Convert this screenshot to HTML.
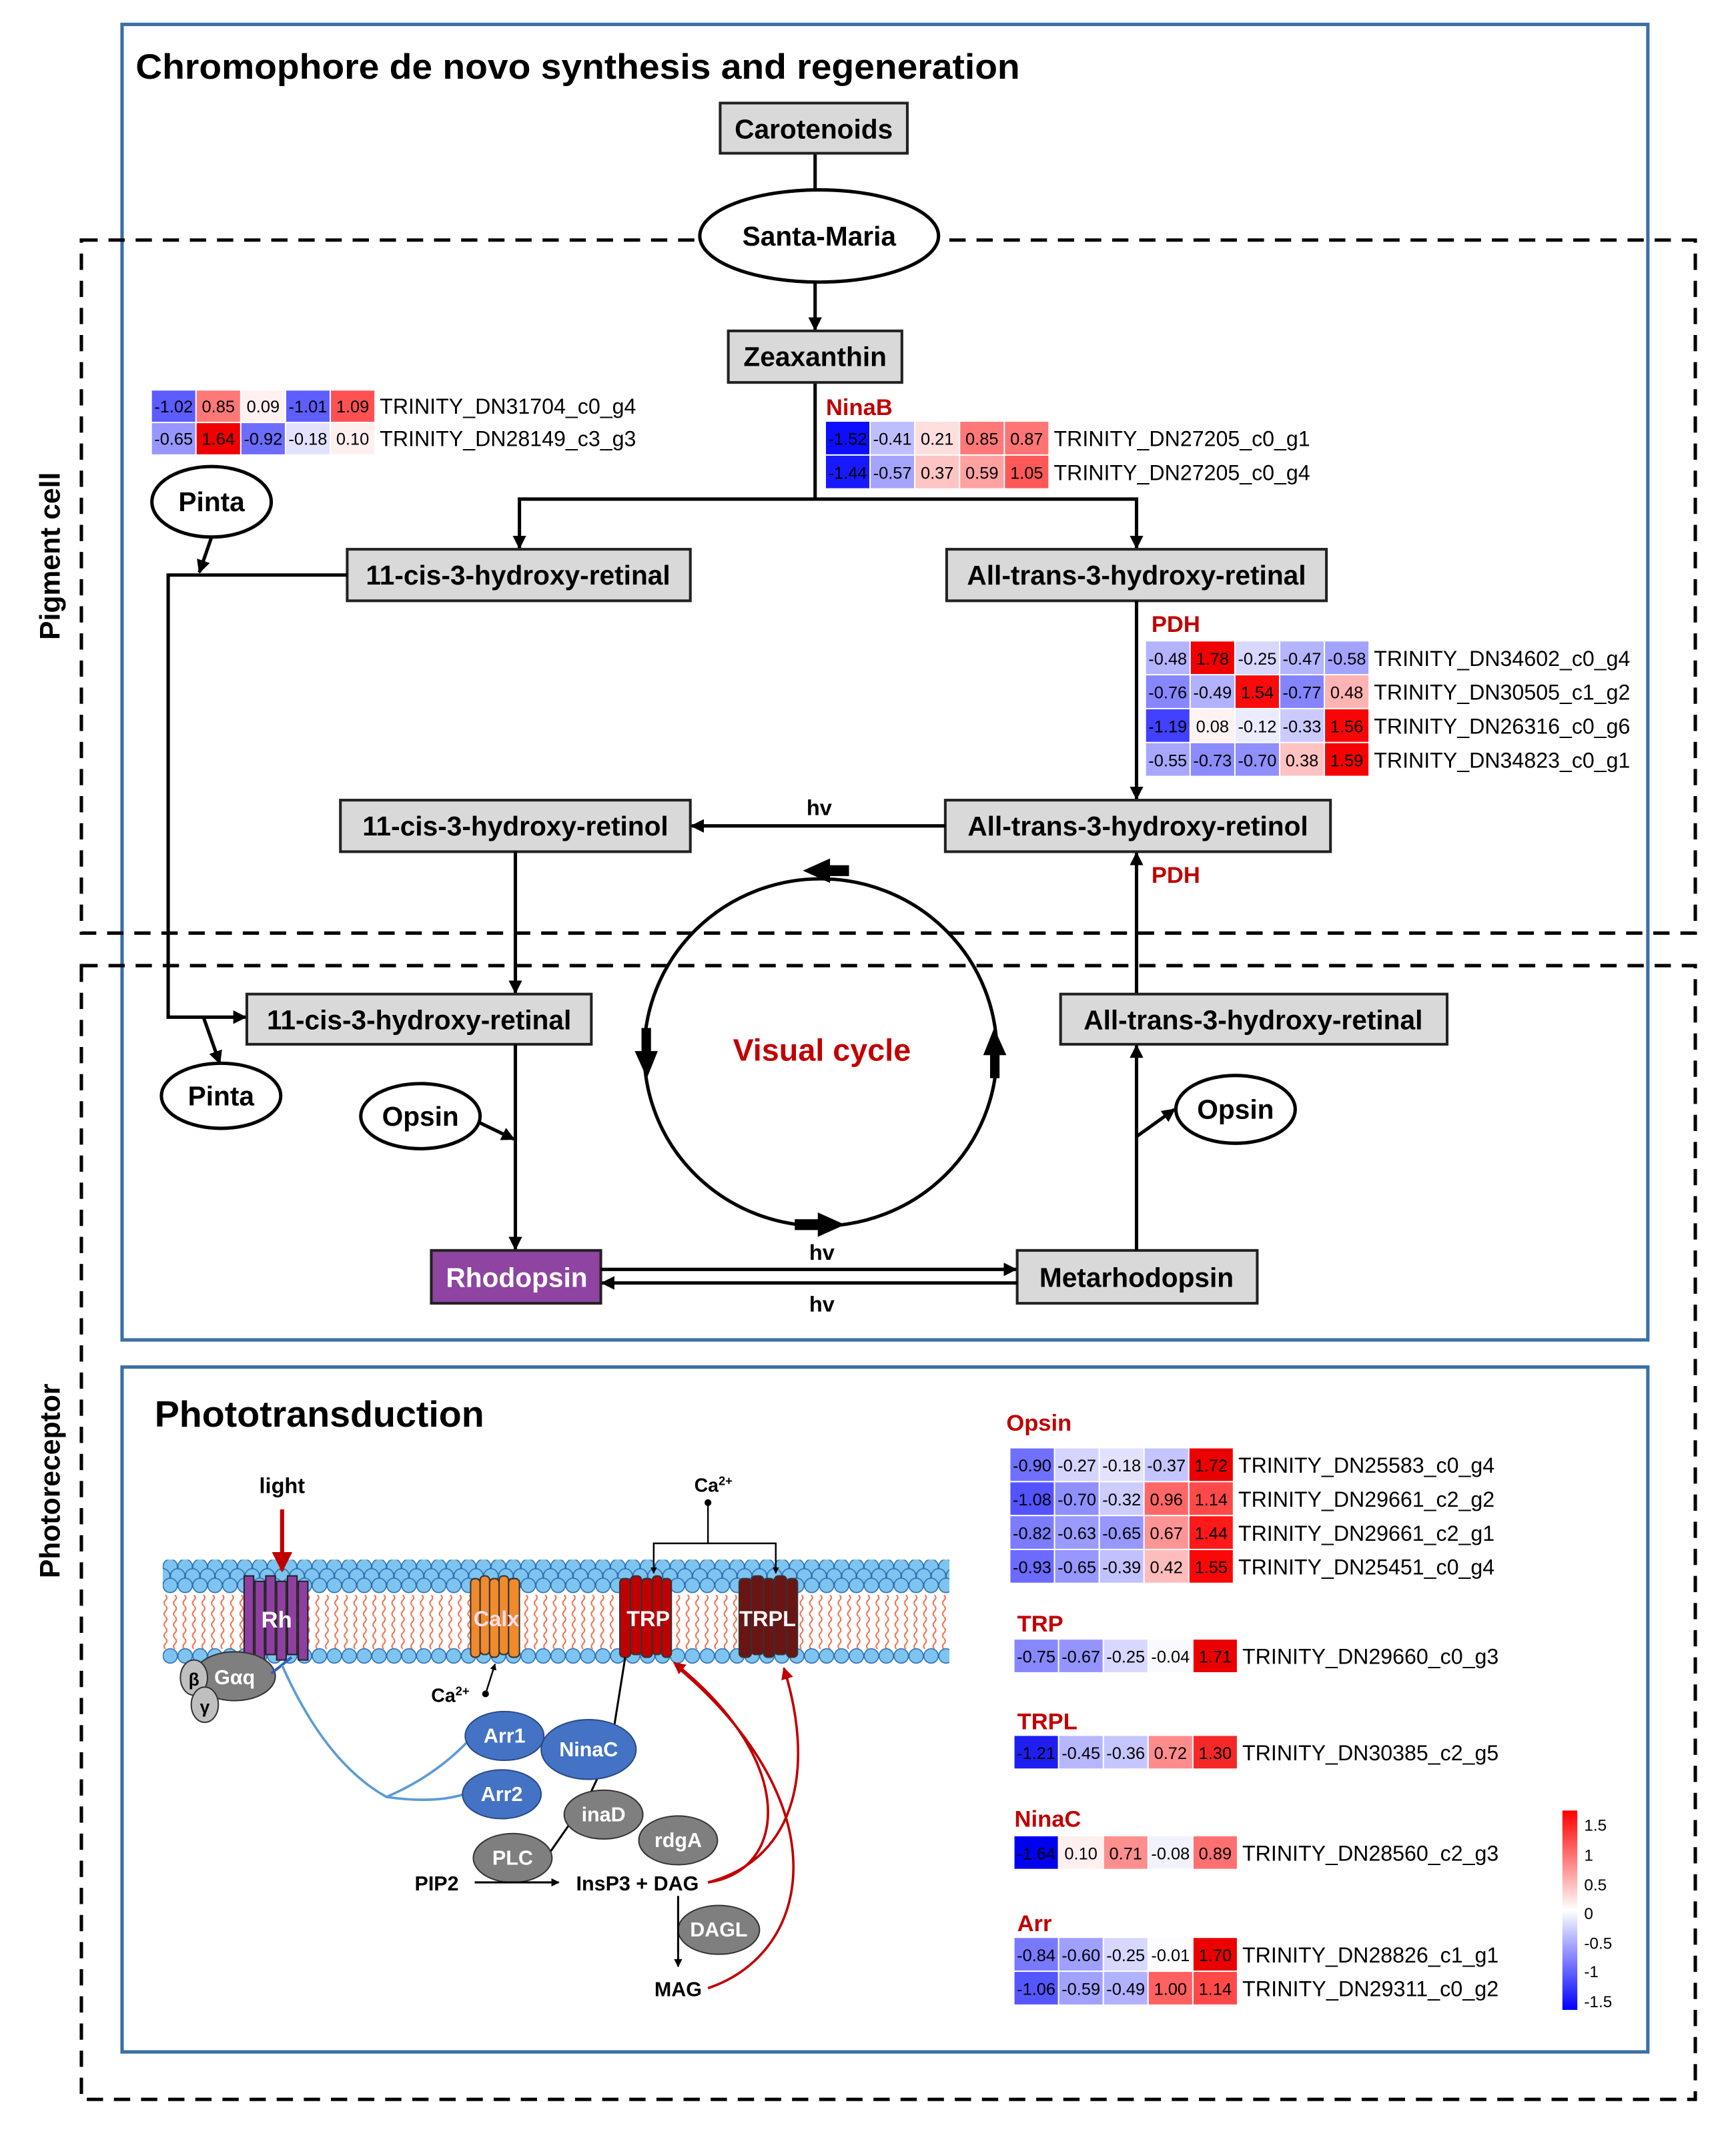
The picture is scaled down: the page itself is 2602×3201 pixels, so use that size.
<!DOCTYPE html>
<html><head><meta charset="utf-8"><style>
html,body{margin:0;padding:0;background:#fff}
svg{display:block}
text{font-family:"Liberation Sans",sans-serif}
.b{font-weight:bold}
.cell text{font-size:12.5px;text-anchor:middle}
.cell text.lab{font-size:16px;text-anchor:start}
.node{fill:#d9d9d9;stroke:#222;stroke-width:2}
.nt{font-size:20px;font-weight:bold;text-anchor:middle}
.ln{stroke:#000;stroke-width:2.5;fill:none}
.red{fill:#c00000;font-weight:bold;font-size:17px}
</style></head><body>
<svg width="2602" height="3201" viewBox="0 0 1280 1575" preserveAspectRatio="none" xmlns="http://www.w3.org/2000/svg">
<defs>
<marker id="a" viewBox="0 0 10 10" refX="9" refY="5" markerWidth="4" markerHeight="4" orient="auto"><path d="M0,0L10,5L0,10z" fill="#000"/></marker>
<marker id="ar" viewBox="0 0 10 10" refX="9" refY="5" markerWidth="5" markerHeight="5" orient="auto"><path d="M0,0L10,5L0,10z" fill="#c00000"/></marker>
<pattern id="hd" x="120" y="1150" width="11" height="30" patternUnits="userSpaceOnUse">
<circle cx="5.5" cy="5" r="5.3" fill="#7ec4f0" stroke="#2f6fb0" stroke-width="0.8"/>
<circle cx="0" cy="12" r="5.3" fill="#7ec4f0" stroke="#2f6fb0" stroke-width="0.8"/>
<circle cx="11" cy="12" r="5.3" fill="#7ec4f0" stroke="#2f6fb0" stroke-width="0.8"/>
<circle cx="5.5" cy="19" r="5.3" fill="#7ec4f0" stroke="#2f6fb0" stroke-width="0.8"/>
</pattern>
<pattern id="hb" x="120" y="1214" width="11" height="14" patternUnits="userSpaceOnUse">
<circle cx="5.5" cy="7" r="5.3" fill="#7ec4f0" stroke="#2f6fb0" stroke-width="0.8"/>
</pattern>
<pattern id="tl" x="120" y="1176" width="7" height="8" patternUnits="userSpaceOnUse">
<path d="M2,0 Q4,2 2,4 Q0,6 2,8" stroke="#f07050" stroke-width="1" fill="none"/>
</pattern>
</defs>

<!-- frames -->
<rect x="90" y="18" width="1125" height="970" fill="none" stroke="#3b6ea5" stroke-width="2.5"/>
<rect x="90" y="1008" width="1125" height="505" fill="none" stroke="#3b6ea5" stroke-width="2.5"/>
<rect x="60" y="177" width="1190" height="511" fill="none" stroke="#000" stroke-width="2.5" stroke-dasharray="12,8"/>
<rect x="60" y="712" width="1190" height="836" fill="none" stroke="#000" stroke-width="2.5" stroke-dasharray="12,8"/>
<text x="100" y="58" class="b" font-size="26" textLength="652" lengthAdjust="spacingAndGlyphs">Chromophore de novo synthesis and regeneration</text>
<text transform="translate(44,410) rotate(-90)" class="b" font-size="21" text-anchor="middle">Pigment cell</text>
<text transform="translate(44,1092) rotate(-90)" class="b" font-size="21" text-anchor="middle">Photoreceptor</text>

<!-- top flow -->
<line x1="601" y1="113" x2="601" y2="140" class="ln"/>
<line x1="601" y1="208" x2="601" y2="243" class="ln" marker-end="url(#a)"/>
<line x1="601" y1="282" x2="601" y2="368" class="ln"/>
<polyline points="383,404 383,368 838,368 838,404" class="ln"/>
<path d="M383,395 v9" class="ln" marker-end="url(#a)"/><path d="M838,395 v9" class="ln" marker-end="url(#a)"/>
<rect x="531" y="76" width="138" height="37" class="node"/><text x="600" y="102" class="nt">Carotenoids</text>
<ellipse cx="604" cy="174" rx="88" ry="34" fill="#fff" stroke="#000" stroke-width="2.5"/><text x="604" y="181" class="nt">Santa-Maria</text>
<rect x="537" y="244" width="128" height="38" class="node"/><text x="601" y="270" class="nt">Zeaxanthin</text>
<rect x="256" y="405" width="253" height="38" class="node"/><text x="382" y="431" class="nt">11-cis-3-hydroxy-retinal</text>
<rect x="698" y="405" width="280" height="38" class="node"/><text x="838" y="431" class="nt">All-trans-3-hydroxy-retinal</text>

<!-- Pinta loops -->
<ellipse cx="156" cy="370" rx="44" ry="26" fill="#fff" stroke="#000" stroke-width="2.5"/><text x="156" y="377" class="nt">Pinta</text>
<line x1="156" y1="396" x2="147" y2="422" class="ln" marker-end="url(#a)"/>
<polyline points="256,424 124,424 124,750 181,750" class="ln" marker-end="url(#a)"/>
<line x1="150" y1="750" x2="162" y2="784" class="ln" marker-end="url(#a)"/>
<ellipse cx="163" cy="808" rx="44" ry="24" fill="#fff" stroke="#000" stroke-width="2.5"/><text x="163" y="815" class="nt">Pinta</text>

<!-- middle -->
<line x1="838" y1="443" x2="838" y2="589" class="ln" marker-end="url(#a)"/>
<rect x="251" y="590" width="258" height="38" class="node"/><text x="380" y="616" class="nt">11-cis-3-hydroxy-retinol</text>
<rect x="697" y="590" width="284" height="38" class="node"/><text x="839" y="616" class="nt">All-trans-3-hydroxy-retinol</text>
<line x1="697" y1="609" x2="510" y2="609" class="ln" marker-end="url(#a)"/>
<text x="604" y="601" class="b" font-size="16" text-anchor="middle">hv</text>
<text x="849" y="651" class="red">PDH</text>
<text x="849" y="466" class="red">PDH</text>
<text x="609" y="306" class="red">NinaB</text>
<line x1="838" y1="733" x2="838" y2="629" class="ln" marker-end="url(#a)"/>
<line x1="380" y1="628" x2="380" y2="732" class="ln" marker-end="url(#a)"/>
<rect x="182" y="733" width="254" height="37" class="node"/><text x="309" y="759" class="nt">11-cis-3-hydroxy-retinal</text>
<rect x="782" y="733" width="285" height="37" class="node"/><text x="924" y="759" class="nt">All-trans-3-hydroxy-retinal</text>

<!-- visual cycle -->
<ellipse cx="605" cy="776" rx="130" ry="128" fill="none" stroke="#000" stroke-width="2.5"/>
<path d="M626,638 L612,638 L612,633 L592,642 L612,651 L612,646 L626,646z" fill="#000"/>
<path d="M473,758 L473,775 L468,775 L477,795 L485,775 L480,775 L480,758z" fill="#000"/>
<path d="M586,899 L603,899 L603,894 L623,903 L603,912 L603,907 L586,907z" fill="#000"/>
<path d="M737,795 L737,778 L742,778 L733,758 L725,778 L730,778 L730,795z" fill="#000"/>
<text x="606" y="782" fill="#c00000" class="b" font-size="23" text-anchor="middle">Visual cycle</text>

<ellipse cx="310" cy="823" rx="44" ry="24" fill="#fff" stroke="#000" stroke-width="2.5"/><text x="310" y="830" class="nt">Opsin</text>
<line x1="354" y1="828" x2="379" y2="840" class="ln" marker-end="url(#a)"/>
<line x1="380" y1="770" x2="380" y2="921" class="ln" marker-end="url(#a)"/>
<rect x="318" y="922" width="125" height="39" fill="#8e44a0" stroke="#222" stroke-width="2"/><text x="381" y="949" class="nt" fill="#fff">Rhodopsin</text>
<rect x="750" y="922" width="177" height="39" class="node"/><text x="838" y="949" class="nt">Metarhodopsin</text>
<line x1="443" y1="936" x2="749" y2="936" class="ln" marker-end="url(#a)"/>
<line x1="750" y1="946" x2="444" y2="946" class="ln" marker-end="url(#a)"/>
<text x="606" y="929" class="b" font-size="16" text-anchor="middle">hv</text>
<text x="606" y="967" class="b" font-size="16" text-anchor="middle">hv</text>
<line x1="838" y1="922" x2="838" y2="771" class="ln" marker-end="url(#a)"/>
<line x1="838" y1="838" x2="866" y2="818" class="ln" marker-end="url(#a)"/>
<ellipse cx="911" cy="818" rx="44" ry="25" fill="#fff" stroke="#000" stroke-width="2.5"/><text x="911" y="825" class="nt">Opsin</text>

<!-- heatmaps top -->
<g class="cell" transform="translate(112,288)">
<rect x="0" width="32" height="23" fill="rgb(92,92,255)"/><rect x="33" width="32" height="23" fill="rgb(255,120,120)"/><rect x="66" width="32" height="23" fill="rgb(255,241,241)"/><rect x="99" width="32" height="23" fill="rgb(94,94,255)"/><rect x="132" width="32" height="23" fill="rgb(255,81,81)"/>
<text x="16" y="16">-1.02</text><text x="49" y="16">0.85</text><text x="82" y="16">0.09</text><text x="115" y="16">-1.01</text><text x="148" y="16">1.09</text>
<text x="168" y="17" class="lab" textLength="189" lengthAdjust="spacingAndGlyphs">TRINITY_DN31704_c0_g4</text></g>
<g class="cell" transform="translate(112,312)">
<rect x="0" width="32" height="23" fill="rgb(151,151,255)"/><rect x="33" width="32" height="23" fill="rgb(240,0,0)"/><rect x="66" width="32" height="23" fill="rgb(108,108,255)"/><rect x="99" width="32" height="23" fill="rgb(226,226,255)"/><rect x="132" width="32" height="23" fill="rgb(255,239,239)"/>
<text x="16" y="16">-0.65</text><text x="49" y="16">1.64</text><text x="82" y="16">-0.92</text><text x="115" y="16">-0.18</text><text x="148" y="16">0.10</text>
<text x="168" y="17" class="lab" textLength="189" lengthAdjust="spacingAndGlyphs">TRINITY_DN28149_c3_g3</text></g>

<g class="cell" transform="translate(609,311)">
<rect x="0" width="32" height="24" fill="rgb(13,13,255)"/><rect x="33" width="32" height="24" fill="rgb(190,190,255)"/><rect x="66" width="32" height="24" fill="rgb(255,222,222)"/><rect x="99" width="32" height="24" fill="rgb(255,120,120)"/><rect x="132" width="32" height="24" fill="rgb(255,116,116)"/>
<text x="16" y="17">-1.52</text><text x="49" y="17">-0.41</text><text x="82" y="17">0.21</text><text x="115" y="17">0.85</text><text x="148" y="17">0.87</text>
<text x="168" y="18" class="lab" textLength="189" lengthAdjust="spacingAndGlyphs">TRINITY_DN27205_c0_g1</text></g>
<g class="cell" transform="translate(609,336)">
<rect x="0" width="32" height="24" fill="rgb(25,25,255)"/><rect x="33" width="32" height="24" fill="rgb(164,164,255)"/><rect x="66" width="32" height="24" fill="rgb(255,196,196)"/><rect x="99" width="32" height="24" fill="rgb(255,161,161)"/><rect x="132" width="32" height="24" fill="rgb(255,88,88)"/>
<text x="16" y="17">-1.44</text><text x="49" y="17">-0.57</text><text x="82" y="17">0.37</text><text x="115" y="17">0.59</text><text x="148" y="17">1.05</text>
<text x="168" y="18" class="lab" textLength="189" lengthAdjust="spacingAndGlyphs">TRINITY_DN27205_c0_g4</text></g>

<g class="cell" transform="translate(845,473)">
<rect x="0" width="32" height="24" fill="rgb(179,179,255)"/><rect x="33" width="32" height="24" fill="rgb(240,0,0)"/><rect x="66" width="32" height="24" fill="rgb(215,215,255)"/><rect x="99" width="32" height="24" fill="rgb(180,180,255)"/><rect x="132" width="32" height="24" fill="rgb(163,163,255)"/>
<text x="16" y="17">-0.48</text><text x="49" y="17">1.78</text><text x="82" y="17">-0.25</text><text x="115" y="17">-0.47</text><text x="148" y="17">-0.58</text>
<text x="168" y="18" class="lab" textLength="189" lengthAdjust="spacingAndGlyphs">TRINITY_DN34602_c0_g4</text></g>
<g class="cell" transform="translate(845,498)">
<rect x="0" width="32" height="24" fill="rgb(134,134,255)"/><rect x="33" width="32" height="24" fill="rgb(177,177,255)"/><rect x="66" width="32" height="24" fill="rgb(250,10,10)"/><rect x="99" width="32" height="24" fill="rgb(132,132,255)"/><rect x="132" width="32" height="24" fill="rgb(255,179,179)"/>
<text x="16" y="17">-0.76</text><text x="49" y="17">-0.49</text><text x="82" y="17">1.54</text><text x="115" y="17">-0.77</text><text x="148" y="17">0.48</text>
<text x="168" y="18" class="lab" textLength="189" lengthAdjust="spacingAndGlyphs">TRINITY_DN30505_c1_g2</text></g>
<g class="cell" transform="translate(845,523)">
<rect x="0" width="32" height="24" fill="rgb(65,65,255)"/><rect x="33" width="32" height="24" fill="rgb(255,242,242)"/><rect x="66" width="32" height="24" fill="rgb(236,236,255)"/><rect x="99" width="32" height="24" fill="rgb(202,202,255)"/><rect x="132" width="32" height="24" fill="rgb(248,6,6)"/>
<text x="16" y="17">-1.19</text><text x="49" y="17">0.08</text><text x="82" y="17">-0.12</text><text x="115" y="17">-0.33</text><text x="148" y="17">1.56</text>
<text x="168" y="18" class="lab" textLength="189" lengthAdjust="spacingAndGlyphs">TRINITY_DN26316_c0_g6</text></g>
<g class="cell" transform="translate(845,548)">
<rect x="0" width="32" height="24" fill="rgb(167,167,255)"/><rect x="33" width="32" height="24" fill="rgb(139,139,255)"/><rect x="66" width="32" height="24" fill="rgb(143,143,255)"/><rect x="99" width="32" height="24" fill="rgb(255,194,194)"/><rect x="132" width="32" height="24" fill="rgb(245,2,2)"/>
<text x="16" y="17">-0.55</text><text x="49" y="17">-0.73</text><text x="82" y="17">-0.70</text><text x="115" y="17">0.38</text><text x="148" y="17">1.59</text>
<text x="168" y="18" class="lab" textLength="189" lengthAdjust="spacingAndGlyphs">TRINITY_DN34823_c0_g1</text></g>

<!-- Phototransduction -->
<text x="114" y="1052" class="b" font-size="27" textLength="243" lengthAdjust="spacingAndGlyphs">Phototransduction</text>
<rect x="120" y="1150" width="580" height="26" fill="url(#hd)"/>
<rect x="120" y="1176" width="580" height="40" fill="url(#tl)"/>
<rect x="120" y="1213" width="580" height="14" fill="url(#hb)"/>

<text x="208" y="1101" class="b" font-size="16" text-anchor="middle">light</text>
<line x1="208" y1="1113" x2="208" y2="1158" stroke="#c00000" stroke-width="3" marker-end="url(#ar)"/>
<g fill="#8e3fa0" stroke="#222" stroke-width="1">
<rect x="180" y="1162" width="7" height="58"/><rect x="188" y="1166" width="7" height="58"/><rect x="196" y="1162" width="7" height="58"/><rect x="204" y="1166" width="7" height="58"/><rect x="212" y="1162" width="7" height="58"/><rect x="220" y="1166" width="7" height="58"/></g>
<text x="204" y="1200" fill="#fff" class="b" font-size="17" text-anchor="middle">Rh</text>
<ellipse cx="173" cy="1236" rx="30" ry="18" fill="#7f7f7f" stroke="#333"/>
<text x="173" y="1242" fill="#fff" class="b" font-size="15" text-anchor="middle">Gαq</text>
<ellipse cx="143" cy="1237" rx="10" ry="13" fill="#bfbfbf" stroke="#333"/><text x="143" y="1243" class="b" font-size="13" text-anchor="middle">β</text>
<ellipse cx="151" cy="1257" rx="10" ry="13" fill="#bfbfbf" stroke="#333"/><text x="151" y="1263" class="b" font-size="13" text-anchor="middle">γ</text>

<g fill="#f08a2a" stroke="#333" stroke-width="1">
<rect x="347" y="1164" width="7" height="58" rx="3"/><rect x="354" y="1162" width="7" height="58" rx="3"/><rect x="361" y="1164" width="7" height="58" rx="3"/><rect x="368" y="1162" width="7" height="58" rx="3"/><rect x="375" y="1164" width="8" height="58" rx="3"/></g>
<text x="366" y="1199" fill="#fde" class="b" font-size="16" text-anchor="middle">Calx</text>
<g fill="#c00000" stroke="#333" stroke-width="1">
<rect x="457" y="1164" width="8" height="58" rx="3"/><rect x="465" y="1162" width="8" height="58" rx="3"/><rect x="473" y="1164" width="8" height="58" rx="3"/><rect x="481" y="1162" width="7" height="58" rx="3"/><rect x="488" y="1164" width="7" height="58" rx="3"/></g>
<text x="478" y="1199" fill="#fff" class="b" font-size="16" text-anchor="middle">TRP</text>
<g fill="#6b1414" stroke="#333" stroke-width="1">
<rect x="545" y="1164" width="9" height="58" rx="3"/><rect x="554" y="1162" width="9" height="58" rx="3"/><rect x="563" y="1164" width="8" height="58" rx="3"/><rect x="571" y="1162" width="9" height="58" rx="3"/><rect x="580" y="1164" width="8" height="58" rx="3"/></g>
<text x="566" y="1199" fill="#fff" class="b" font-size="16" text-anchor="middle">TRPL</text>

<text x="526" y="1100" class="b" font-size="14" text-anchor="middle">Ca<tspan font-size="9" dy="-5">2+</tspan></text>
<circle cx="522" cy="1108" r="2.5"/>
<polyline points="522,1108 522,1138 482,1138 482,1160" stroke="#000" stroke-width="1.2" fill="none" marker-end="url(#a)"/>
<polyline points="522,1138 572,1138 572,1160" stroke="#000" stroke-width="1.2" fill="none" marker-end="url(#a)"/>
<text x="332" y="1255" class="b" font-size="14" text-anchor="middle">Ca<tspan font-size="9" dy="-5">2+</tspan></text>
<circle cx="358" cy="1249" r="2.5"/>
<line x1="358" y1="1249" x2="365" y2="1227" stroke="#000" stroke-width="1.2" marker-end="url(#a)"/>

<path d="M200,1234 L215,1222" stroke="#2f5fc0" stroke-width="2"/>
<path d="M208,1228 Q240,1300 285,1325 Q320,1310 345,1284" stroke="#5b9bd5" stroke-width="1.8" fill="none"/>
<path d="M285,1325 Q320,1330 342,1323" stroke="#5b9bd5" stroke-width="1.8" fill="none"/>
<path d="M461,1222 L453,1272 M442,1308 L435,1323 M420,1345 L404,1368" stroke="#000" stroke-width="1.5"/>

<g fill="#4472c4" stroke="#2a4a8a" stroke-width="1">
<ellipse cx="372" cy="1280" rx="29" ry="18"/><ellipse cx="434" cy="1290" rx="35" ry="22"/><ellipse cx="370" cy="1323" rx="29" ry="18"/></g>
<g fill="#7f7f7f" stroke="#333" stroke-width="1">
<ellipse cx="445" cy="1338" rx="29" ry="18"/><ellipse cx="500" cy="1357" rx="29" ry="18"/><ellipse cx="378" cy="1370" rx="29" ry="18"/><ellipse cx="530" cy="1423" rx="30" ry="18"/></g>
<g fill="#fff" class="b" font-size="15" text-anchor="middle">
<text x="372" y="1285">Arr1</text><text x="434" y="1295">NinaC</text><text x="370" y="1328">Arr2</text>
<text x="445" y="1343">inaD</text><text x="500" y="1362">rdgA</text><text x="378" y="1375">PLC</text><text x="530" y="1428">DAGL</text></g>
<text x="322" y="1394" class="b" font-size="15" text-anchor="middle">PIP2</text>
<line x1="350" y1="1388" x2="412" y2="1388" stroke="#000" stroke-width="1.5" marker-end="url(#a)"/>
<text x="470" y="1394" class="b" font-size="15" text-anchor="middle">InsP3 + DAG</text>
<line x1="500" y1="1398" x2="500" y2="1450" stroke="#000" stroke-width="1.5" marker-end="url(#a)"/>
<text x="500" y="1472" class="b" font-size="15" text-anchor="middle">MAG</text>
<g stroke="#c00000" stroke-width="1.8" fill="none">
<path d="M522,1388 C580,1380 590,1300 497,1226" marker-end="url(#ar)"/>
<path d="M522,1388 C590,1370 600,1300 578,1230" marker-end="url(#ar)"/>
<path d="M522,1466 C600,1440 620,1330 498,1228"/>
</g>

<!-- heatmaps right -->
<text x="742" y="1055" class="red">Opsin</text>
<g class="cell" transform="translate(745,1068)">
<rect x="0" width="32" height="24" fill="rgb(112,112,255)"/><rect x="33" width="32" height="24" fill="rgb(212,212,255)"/><rect x="66" width="32" height="24" fill="rgb(226,226,255)"/><rect x="99" width="32" height="24" fill="rgb(196,196,255)"/><rect x="132" width="32" height="24" fill="rgb(235,0,0)"/>
<text x="16" y="17">-0.90</text><text x="49" y="17">-0.27</text><text x="82" y="17">-0.18</text><text x="115" y="17">-0.37</text><text x="148" y="17">1.72</text>
<text x="168" y="18" class="lab" textLength="189" lengthAdjust="spacingAndGlyphs">TRINITY_DN25583_c0_g4</text></g>
<g class="cell" transform="translate(745,1093)">
<rect x="0" width="32" height="24" fill="rgb(83,83,255)"/><rect x="33" width="32" height="24" fill="rgb(143,143,255)"/><rect x="66" width="32" height="24" fill="rgb(204,204,255)"/><rect x="99" width="32" height="24" fill="rgb(255,102,102)"/><rect x="132" width="32" height="24" fill="rgb(255,73,73)"/>
<text x="16" y="17">-1.08</text><text x="49" y="17">-0.70</text><text x="82" y="17">-0.32</text><text x="115" y="17">0.96</text><text x="148" y="17">1.14</text>
<text x="168" y="18" class="lab" textLength="189" lengthAdjust="spacingAndGlyphs">TRINITY_DN29661_c2_g2</text></g>
<g class="cell" transform="translate(745,1118)">
<rect x="0" width="32" height="24" fill="rgb(124,124,255)"/><rect x="33" width="32" height="24" fill="rgb(155,155,255)"/><rect x="66" width="32" height="24" fill="rgb(151,151,255)"/><rect x="99" width="32" height="24" fill="rgb(255,148,148)"/><rect x="132" width="32" height="24" fill="rgb(255,25,25)"/>
<text x="16" y="17">-0.82</text><text x="49" y="17">-0.63</text><text x="82" y="17">-0.65</text><text x="115" y="17">0.67</text><text x="148" y="17">1.44</text>
<text x="168" y="18" class="lab" textLength="189" lengthAdjust="spacingAndGlyphs">TRINITY_DN29661_c2_g1</text></g>
<g class="cell" transform="translate(745,1143)">
<rect x="0" width="32" height="24" fill="rgb(107,107,255)"/><rect x="33" width="32" height="24" fill="rgb(151,151,255)"/><rect x="66" width="32" height="24" fill="rgb(193,193,255)"/><rect x="99" width="32" height="24" fill="rgb(255,188,188)"/><rect x="132" width="32" height="24" fill="rgb(250,8,8)"/>
<text x="16" y="17">-0.93</text><text x="49" y="17">-0.65</text><text x="82" y="17">-0.39</text><text x="115" y="17">0.42</text><text x="148" y="17">1.55</text>
<text x="168" y="18" class="lab" textLength="189" lengthAdjust="spacingAndGlyphs">TRINITY_DN25451_c0_g4</text></g>

<text x="750" y="1203" class="red">TRP</text>
<g class="cell" transform="translate(748,1209)">
<rect x="0" width="32" height="24" fill="rgb(135,135,255)"/><rect x="33" width="32" height="24" fill="rgb(148,148,255)"/><rect x="66" width="32" height="24" fill="rgb(215,215,255)"/><rect x="99" width="32" height="24" fill="rgb(249,249,255)"/><rect x="132" width="32" height="24" fill="rgb(235,0,0)"/>
<text x="16" y="17">-0.75</text><text x="49" y="17">-0.67</text><text x="82" y="17">-0.25</text><text x="115" y="17">-0.04</text><text x="148" y="17">1.71</text>
<text x="168" y="18" class="lab" textLength="189" lengthAdjust="spacingAndGlyphs">TRINITY_DN29660_c0_g3</text></g>

<text x="750" y="1275" class="red">TRPL</text>
<g class="cell" transform="translate(748,1280)">
<rect x="0" width="32" height="24" fill="rgb(30,30,240)"/><rect x="33" width="32" height="24" fill="rgb(183,183,255)"/><rect x="66" width="32" height="24" fill="rgb(198,198,255)"/><rect x="99" width="32" height="24" fill="rgb(255,140,140)"/><rect x="132" width="32" height="24" fill="rgb(245,40,40)"/>
<text x="16" y="17">-1.21</text><text x="49" y="17">-0.45</text><text x="82" y="17">-0.36</text><text x="115" y="17">0.72</text><text x="148" y="17">1.30</text>
<text x="168" y="18" class="lab" textLength="189" lengthAdjust="spacingAndGlyphs">TRINITY_DN30385_c2_g5</text></g>

<text x="748" y="1347" class="red">NinaC</text>
<g class="cell" transform="translate(748,1354)">
<rect x="0" width="32" height="24" fill="rgb(0,0,240)"/><rect x="33" width="32" height="24" fill="rgb(255,239,239)"/><rect x="66" width="32" height="24" fill="rgb(255,142,142)"/><rect x="99" width="32" height="24" fill="rgb(242,242,255)"/><rect x="132" width="32" height="24" fill="rgb(255,113,113)"/>
<text x="16" y="17">-1.64</text><text x="49" y="17">0.10</text><text x="82" y="17">0.71</text><text x="115" y="17">-0.08</text><text x="148" y="17">0.89</text>
<text x="168" y="18" class="lab" textLength="189" lengthAdjust="spacingAndGlyphs">TRINITY_DN28560_c2_g3</text></g>

<text x="750" y="1424" class="red">Arr</text>
<g class="cell" transform="translate(748,1429)">
<rect x="0" width="32" height="24" fill="rgb(121,121,255)"/><rect x="33" width="32" height="24" fill="rgb(159,159,255)"/><rect x="66" width="32" height="24" fill="rgb(215,215,255)"/><rect x="99" width="32" height="24" fill="rgb(253,253,255)"/><rect x="132" width="32" height="24" fill="rgb(235,0,0)"/>
<text x="16" y="17">-0.84</text><text x="49" y="17">-0.60</text><text x="82" y="17">-0.25</text><text x="115" y="17">-0.01</text><text x="148" y="17">1.70</text>
<text x="168" y="18" class="lab" textLength="189" lengthAdjust="spacingAndGlyphs">TRINITY_DN28826_c1_g1</text></g>
<g class="cell" transform="translate(748,1454)">
<rect x="0" width="32" height="24" fill="rgb(86,86,255)"/><rect x="33" width="32" height="24" fill="rgb(161,161,255)"/><rect x="66" width="32" height="24" fill="rgb(177,177,255)"/><rect x="99" width="32" height="24" fill="rgb(255,96,96)"/><rect x="132" width="32" height="24" fill="rgb(255,73,73)"/>
<text x="16" y="17">-1.06</text><text x="49" y="17">-0.59</text><text x="82" y="17">-0.49</text><text x="115" y="17">1.00</text><text x="148" y="17">1.14</text>
<text x="168" y="18" class="lab" textLength="189" lengthAdjust="spacingAndGlyphs">TRINITY_DN29311_c0_g2</text></g>

<defs><linearGradient id="cb" x1="0" y1="0" x2="0" y2="1">
<stop offset="0" stop-color="#ff0000"/><stop offset="0.5" stop-color="#ffffff"/><stop offset="1" stop-color="#0000ff"/></linearGradient></defs>
<rect x="1152" y="1335" width="11" height="147" fill="url(#cb)"/>
<g font-size="12">
<text x="1168" y="1350">1.5</text><text x="1168" y="1372">1</text><text x="1168" y="1394">0.5</text><text x="1168" y="1415">0</text><text x="1168" y="1437">-0.5</text><text x="1168" y="1458">-1</text><text x="1168" y="1480">-1.5</text></g>
</svg>
</body></html>
